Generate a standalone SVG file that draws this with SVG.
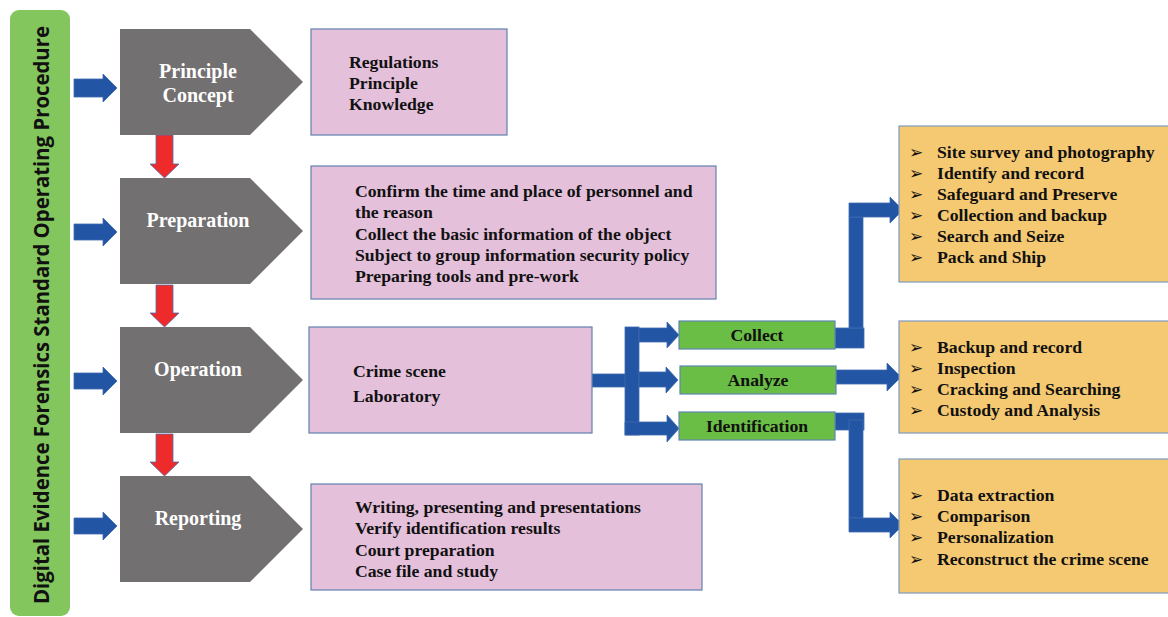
<svg xmlns="http://www.w3.org/2000/svg" width="1168" height="617" viewBox="0 0 1168 617">
<style>
.gray{fill:#727071;}
.gt{fill:#ffffff;font-family:"Liberation Serif",serif;font-weight:bold;font-size:20px;text-anchor:middle;}
.pink{fill:#E4C0DB;stroke:#6180AE;stroke-width:1.2;}
.orange{fill:#F5C971;stroke:#7E9CC0;stroke-width:1.2;}
.green{fill:#6ABD45;stroke:#5F86B0;stroke-width:1.2;}
.bt{fill:#111;font-family:"Liberation Serif",serif;font-weight:bold;font-size:17.7px;}
.ct{fill:#111;font-family:"Liberation Serif",serif;font-weight:bold;font-size:17.7px;text-anchor:middle;}
.bul{fill:#111;font-family:"DejaVu Sans",sans-serif;font-size:17px;}
.blue{fill:#2255A4;stroke:#3F6BAE;stroke-width:0.8;}
.red{fill:#EE2A2A;stroke:#4C70AE;stroke-width:0.8;}
</style>
<rect width="1168" height="617" fill="#ffffff"/>
<g id="title">
<rect x="10" y="10" width="60" height="606" rx="9" fill="#84C65E"/>
<text x="0" y="0" transform="translate(49,315) rotate(-90)" font-family="'Open Sans',sans-serif" font-weight="bold" font-size="20.5" text-anchor="middle" textLength="578" lengthAdjust="spacingAndGlyphs" fill="#111">Digital Evidence Forensics Standard Operating Procedure</text>
</g>
<g id="connectors">
<path class="blue" d="M74,79 H103 V74 L117,88 L103,102 V97 H74 Z"/>
<path class="blue" d="M74,224 H103 V218 L117,232 L103,246 V240 H74 Z"/>
<path class="blue" d="M74,373 H103 V367 L117,381 L103,395 V389 H74 Z"/>
<path class="blue" d="M74,518 H103 V512 L117,526 L103,540 V534 H74 Z"/>
<path class="red" d="M156,135 H173 V164 H179 L164.5,178 L150,164 H156 Z"/>
<path class="red" d="M156,285 H173 V313 H179 L164.5,327 L150,313 H156 Z"/>
<path class="red" d="M156,434 H173 V462 H179 L164.5,476 L150,462 H156 Z"/>
<rect class="blue" x="592" y="374" width="34" height="13"/>
<rect class="blue" x="625" y="327" width="14" height="108"/>
<path class="blue" d="M639,328 H667 V322 L679,335 L667,348 V342 H639 Z"/>
<path class="blue" d="M639,372 H666 V367 L678,380 L666,393 V387 H639 Z"/>
<path class="blue" d="M625,422 H667 V415 L679,428.5 L667,442 V435 H625 Z"/>
<rect class="blue" x="835" y="328" width="29" height="20"/>
<rect class="blue" x="849" y="217" width="14" height="111"/>
<path class="blue" d="M849,203 H890 V197 L903,210 L890,223 V217 H849 Z"/>
<path class="blue" d="M836,370 H887 V363 L901,377 L887,391 V384 H836 Z"/>
<rect class="blue" x="835" y="413" width="29" height="17"/>
<rect class="blue" x="849" y="420" width="14" height="98"/>
<path class="blue" d="M849,518 H890 V512 L903,525 L890,538 V532 H849 Z"/>
</g>
<g id="principle">
<path class="gray" d="M120,29 H250 L303,82 L250,135 H120 Z"/>
<text class="gt" x="198" y="78">Principle</text>
<text class="gt" x="198" y="102">Concept</text>
</g>
<g id="preparation">
<path class="gray" d="M120,178 H250 L303,231 L250,284 H120 Z"/>
<text class="gt" x="198" y="227">Preparation</text>
</g>
<g id="operation">
<path class="gray" d="M120,327 H250 L303,380 L250,433 H120 Z"/>
<text class="gt" x="198" y="376">Operation</text>
</g>
<g id="reporting">
<path class="gray" d="M120,476 H250 L303,529 L250,582 H120 Z"/>
<text class="gt" x="198" y="525">Reporting</text>
</g>
<g id="principle-detail">
<rect class="pink" x="311" y="29" width="196" height="106"/>
<text class="bt" x="349" y="68">Regulations</text>
<text class="bt" x="349" y="89">Principle</text>
<text class="bt" x="349" y="110">Knowledge</text>
</g>
<g id="preparation-detail">
<rect class="pink" x="311" y="166" width="405" height="133"/>
<text class="bt" x="355" y="197">Confirm the time and place of personnel and</text>
<text class="bt" x="355" y="218">the reason</text>
<text class="bt" x="355" y="240">Collect the basic information of the object</text>
<text class="bt" x="355" y="261">Subject to group information security policy</text>
<text class="bt" x="355" y="282">Preparing tools and pre-work</text>
</g>
<g id="operation-detail">
<rect class="pink" x="309" y="327" width="283" height="106"/>
<text class="bt" x="353" y="377">Crime scene</text>
<text class="bt" x="353" y="402">Laboratory</text>
</g>
<g id="reporting-detail">
<rect class="pink" x="311" y="484" width="391" height="106"/>
<text class="bt" x="355" y="513">Writing, presenting and presentations</text>
<text class="bt" x="355" y="534">Verify identification results</text>
<text class="bt" x="355" y="556">Court preparation</text>
<text class="bt" x="355" y="577">Case file and study</text>
</g>
<g id="collect">
<rect class="green" x="679" y="321" width="156" height="28"/>
<text class="ct" x="757" y="341">Collect</text>
</g>
<g id="analyze">
<rect class="green" x="680" y="366" width="156" height="28"/>
<text class="ct" x="758" y="386">Analyze</text>
</g>
<g id="identification">
<rect class="green" x="679" y="412" width="156" height="28"/>
<text class="ct" x="757" y="432">Identification</text>
</g>
<g id="collect-detail">
<rect class="orange" x="899" y="126" width="275" height="156"/>
<text class="bul" x="909" y="158">➢</text><text class="bt" x="937" y="158">Site survey and photography</text>
<text class="bul" x="909" y="179">➢</text><text class="bt" x="937" y="179">Identify and record</text>
<text class="bul" x="909" y="200">➢</text><text class="bt" x="937" y="200">Safeguard and Preserve</text>
<text class="bul" x="909" y="221">➢</text><text class="bt" x="937" y="221">Collection and backup</text>
<text class="bul" x="909" y="242">➢</text><text class="bt" x="937" y="242">Search and Seize</text>
<text class="bul" x="909" y="263">➢</text><text class="bt" x="937" y="263">Pack and Ship</text>
</g>
<g id="analyze-detail">
<rect class="orange" x="899" y="321" width="275" height="112"/>
<text class="bul" x="909" y="353">➢</text><text class="bt" x="937" y="353">Backup and record</text>
<text class="bul" x="909" y="374">➢</text><text class="bt" x="937" y="374">Inspection</text>
<text class="bul" x="909" y="395">➢</text><text class="bt" x="937" y="395">Cracking and Searching</text>
<text class="bul" x="909" y="416">➢</text><text class="bt" x="937" y="416">Custody and Analysis</text>
</g>
<g id="identification-detail">
<rect class="orange" x="899" y="459" width="275" height="134"/>
<text class="bul" x="909" y="501">➢</text><text class="bt" x="937" y="501">Data extraction</text>
<text class="bul" x="909" y="522">➢</text><text class="bt" x="937" y="522">Comparison</text>
<text class="bul" x="909" y="543">➢</text><text class="bt" x="937" y="543">Personalization</text>
<text class="bul" x="909" y="565">➢</text><text class="bt" x="937" y="565">Reconstruct the crime scene</text>
</g>
</svg>
